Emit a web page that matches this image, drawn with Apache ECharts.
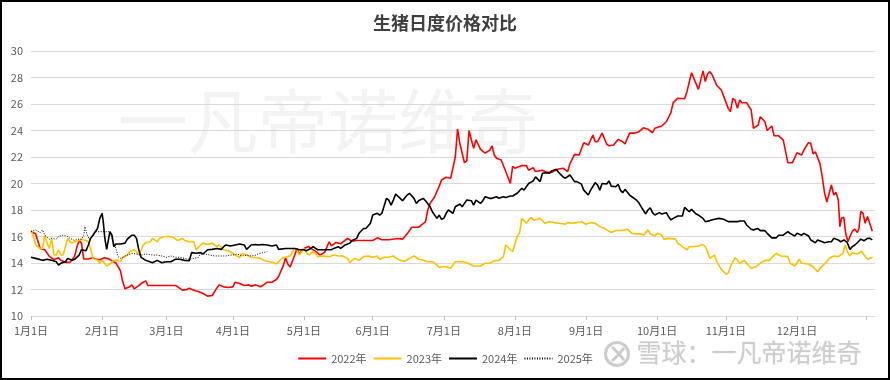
<!DOCTYPE html>
<html><head><meta charset="utf-8">
<script src="https://cdn.jsdelivr.net/npm/echarts@6/dist/echarts.min.js"></script>
<style>html,body{margin:0;padding:0;background:#fff}#c{width:890px;height:380px}</style>
</head><body><div id="c"></div>
<script>
const title = '生猪日度价格对比';
const seriesNames = ['2022年', '2023年', '2024年', '2025年'];
// x positions of month ticks (day index along the axis) and their labels
const monthTicks = [0, 31, 59, 88, 119, 149, 180, 211, 242, 273, 303, 334, 364];
const monthLabels = ['1月1日', '2月1日', '3月1日', '4月1日', '5月1日', '6月1日', '7月1日', '8月1日', '9月1日', '10月1日', '11月1日', '12月1日', ''];
const yTicks = [10, 12, 14, 16, 18, 20, 22, 24, 26, 28, 30];

const days2022 = [0,2,4,6,8,10,12,13,15,17,19,20,21,22,23,25,27,28,30,32,34,35,37,39,40,41,43,44,45,47,48,49,50,51,54,58,63,64,66,68,69,71,73,75,77,79,81,82,84,86,88,89,91,93,95,96,98,100,101,103,105,107,108,110,111,112,113,115,116,117,119,121,122,124,126,128,130,131,133,135,136,138,140,142,145,149,151,153,156,160,162,164,166,169,172,173,174,176,178,179,181,183,185,186,187,189,190,191,192,193,194,196,198,200,201,202,203,205,207,209,210,211,214,216,217,219,220,223,225,227,230,232,234,235,237,239,241,243,245,246,247,249,251,252,254,256,258,259,261,263,265,267,269,271,272,275,277,279,280,282,285,286,288,289,291,293,294,295,296,297,299,301,304,305,306,307,308,309,310,312,314,315,317,318,320,321,323,324,326,328,330,332,334,336,337,339,340,341,342,344,345,346,347,349,350,351,352,352.7,353.4,354.4,355.2,356.2,357.1,358.1,359.2,360.3,361,361.8,362.8,363.7,364.7,365.7,366.8];
const price2022 = [16.36,16.2,15.1,15.0,14.5,14.25,14.4,14.2,14.05,14.05,14.5,15.2,15.7,15.5,14.3,14.3,14.4,14.3,14.25,14.4,14.3,14.2,14.0,13.4,12.6,12.05,12.2,12.35,12.05,12.3,12.45,12.55,12.65,12.3,12.3,12.3,12.3,12.2,11.95,12.0,12.1,11.95,11.85,11.7,11.5,11.55,12.1,12.35,12.2,12.15,12.2,12.55,12.45,12.3,12.35,12.25,12.35,12.2,12.3,12.55,12.55,12.75,13.0,13.8,14.4,13.9,13.7,14.6,15.1,14.7,15.1,15.25,15.1,14.9,14.6,14.8,15.6,15.3,15.55,15.45,15.6,15.85,15.65,15.7,15.7,15.7,15.9,15.75,15.75,15.85,15.8,16.2,16.7,16.7,17.1,18.0,18.5,19.0,19.8,20.26,20.47,20.4,22.0,24.1,23.0,21.57,21.7,24.0,23.3,22.66,23.3,22.58,22.3,22.5,22.85,22.15,21.9,21.77,20.9,20.0,21.3,21.15,21.35,21.35,21.0,21.2,20.9,21.0,20.84,20.84,21.1,21.15,20.9,21.5,22.2,22.15,23.08,22.9,23.66,23.15,23.15,23.8,22.98,22.85,22.9,23.33,23.15,22.98,23.8,23.8,23.9,24.2,24.1,23.83,24.17,24.34,24.66,25.35,26.1,26.43,26.4,26.93,28.36,27.94,27.1,28.5,27.7,28.26,28.44,28.2,27.4,27.06,25.67,25.42,26.43,26.3,25.67,26.3,26.1,26.1,25.55,24.17,24.4,25.04,24.66,24.0,24.34,23.6,23.6,23.28,21.57,21.57,22.32,22.15,22.53,23.08,23.03,22.23,22.4,21.5,20.5,19.3,18.6,19.9,19.13,19.33,18.75,16.74,17.37,17.45,16.24,15.6,16.0,16.4,16.55,16.3,16.6,17.9,17.75,17.0,17.5,17.0,16.4];

const days2023 = [0,1,2,4,5,6,7,8,9,10,11,12,13,14,16,17,18,19,21,22,24,25,26,27,29,30,31,33,35,36,38,39,40,42,43,45,46,47,49,50,52,53,55,56,58,60,62,64,66,67,69,71,72,74,75,77,79,81,82,84,86,87,89,91,92,94,96,98,100,102,104,106,107,108,109,110,111,113,114,115,116,117,118,119,120,121,123,124,125,127,130,132,134,136,138,139,140,141,143,145,147,149,151,152,154,156,158,160,161,163,165,167,169,171,173,175,177,178,180,181,183,185,188,190,193,196,198,200,202,204,206,207,209,210,212,213,214,216,217,218,219,221,222,224,226,228,230,233,234,236,238,240,242,244,246,248,250,251,253,255,258,260,262,264,266,267,269,270,272,273,275,276,278,281,282,284,286,287,289,291,293,294,295,296,298,299,301,303,304,305,307,308,309,311,312,314,316,318,320,322,323,325,327,330,331,333,335,336,339,341,343,344,347,348,350,352,354,355,356,357,358,360,361,362,364,365,367];
const price2023 = [16.5,16.0,15.36,15.1,15.1,16.1,15.5,15.1,15.86,14.6,14.6,15.0,14.6,14.6,15.86,15.6,15.5,15.6,15.7,15.8,15.7,15.6,15.1,14.35,14.2,13.98,14.2,13.77,13.98,14.2,14.2,14.1,14.4,14.6,14.85,15.0,14.85,14.6,15.36,15.53,15.6,15.86,15.6,15.86,16.0,16.0,15.94,15.7,15.86,15.7,15.6,15.6,15.0,15.36,15.5,15.4,15.5,15.23,15.36,15.0,14.93,14.85,14.6,14.43,14.7,14.6,14.43,14.4,14.35,14.17,14.1,14.02,13.92,14.1,14.3,14.43,14.43,14.53,14.85,15.1,15.0,14.6,14.85,15.1,14.85,14.6,14.85,14.73,14.48,14.53,14.48,14.6,14.53,14.53,14.35,14.02,14.2,14.35,14.2,14.48,14.53,14.43,14.53,14.28,14.43,14.43,14.53,14.28,14.2,14.13,14.35,14.53,14.3,14.2,14.1,14.1,13.85,13.67,13.72,13.72,13.6,14.1,14.1,14.02,13.77,13.77,13.98,13.98,14.17,14.2,14.48,15.36,15.0,14.85,16.04,16.24,17.37,17.0,17.25,17.42,17.25,17.3,17.37,17.0,17.12,17.05,17.0,16.92,17.05,17.0,17.05,17.12,16.92,17.05,17.0,16.74,16.62,16.5,16.3,16.45,16.45,16.55,16.24,16.2,16.2,16.1,16.5,16.2,16.04,16.24,16.1,15.8,15.86,15.8,15.5,15.23,15.0,15.23,15.23,15.28,15.4,15.23,14.85,14.35,14.6,14.1,13.52,13.17,13.22,13.72,14.4,14.2,13.98,14.2,13.98,13.6,13.72,13.98,14.2,14.2,14.43,14.73,14.53,14.48,13.98,13.77,14.28,13.98,13.92,13.72,13.34,13.6,14.1,14.35,14.53,14.48,14.73,15.36,14.85,14.53,14.78,14.68,14.73,14.9,14.43,14.28,14.43];

const days2024 = [0,2,5,7,9,11,12,13,15,16,18,19,21,22,24,25,26,27,29,30,31,31.5,32.2,33,33.7,34.4,35.3,36.1,37,39,41,42,44,45,46,47,48,50,53,55,57,59,61,63,65,67,69,70,72,74,75,77,79,81,83,84,85,87,89,91,93,94,96,98,99,101,103,105,107,108,111,113,115,117,119,120,122,123,125,127,129,131,132,134,135,137,139,140,142,143,145,146,148,149,151,152,153,155,156,157,158,159,161,162,164,165,167,168,169,171,172,174,175,177,178,179,180,181,182,184,185,187,188,189,190,192,193,194,196,197,198,200,201,203,204,206,207,209,210,212,214,215,216,217,219,220,222,223,225,226,227,229,230,232,233,235,237,238,240,241,243,244,246,247,248,249,251,252,253,255,256,257,258,259,261,262,264,265,266,268,269,270,271,272,274,275,277,278,279,280,282,284,285,287,288,290,291,293,294,296,298,300,302,304,306,308,309,311,312,314,315,317,318,320,321,323,325,326,328,330,331,333,334,336,337,339,340,342,343,345,346,348,349,350,352,353,354.5,355.9,357.1,358.1,359.2,360.3,361.8,363.2,364.7,365.8,366.8];
const price2024 = [14.43,14.35,14.2,14.28,14.2,14.1,13.85,13.98,14.1,14.35,14.2,14.28,14.6,15.0,14.93,15.36,15.86,16.1,16.6,17.37,17.75,17.12,15.86,15.03,15.1,16.36,16.1,15.23,15.43,15.43,15.5,15.8,16.1,16.1,15.86,15.0,14.43,14.2,14.02,14.2,14.02,14.1,14.1,14.28,14.28,14.2,14.17,14.78,14.73,14.78,14.68,15.0,15.03,15.1,15.03,15.23,15.36,15.28,15.36,15.43,15.36,15.03,15.36,15.4,15.36,15.4,15.36,15.28,15.36,15.03,15.1,15.1,15.1,15.0,15.0,14.93,15.1,15.23,15.0,15.0,15.0,15.0,15.1,15.23,15.1,15.36,15.5,15.7,15.86,16.24,16.6,16.6,17.0,17.62,17.75,17.62,17.75,18.88,18.75,18.37,18.75,19.2,18.88,18.7,19.13,19.26,18.88,18.5,18.7,18.88,18.7,18.25,17.87,17.37,17.62,17.3,17.37,17.75,18.0,17.75,18.25,18.45,18.25,18.5,18.75,18.7,18.37,18.75,18.5,18.7,19.0,18.88,18.88,19.0,18.88,19.0,18.95,19.06,19.06,19.26,19.64,19.5,19.76,20.0,20.2,20.5,20.14,20.77,20.82,20.77,20.95,21.07,20.85,20.5,20.4,20.64,20.14,20.14,19.95,19.5,19.13,19.5,20.06,19.9,19.5,20.0,19.96,20.2,19.8,19.76,19.94,19.5,19.3,19.56,19.13,19.0,18.75,18.55,18.25,17.7,18.0,18.17,17.8,17.62,17.8,17.7,17.8,17.5,17.25,17.37,17.55,17.55,18.2,17.87,18.05,17.7,17.62,17.37,17.12,17.2,17.3,17.37,17.3,17.12,17.12,17.12,17.17,17.17,16.87,16.55,16.5,16.6,16.44,16.44,16.24,15.9,15.9,16.1,16.1,16.36,16.24,16.04,16.24,16.1,16.24,16.04,15.74,15.53,15.74,15.6,15.53,15.6,15.6,15.86,15.74,15.6,15.74,15.53,15.03,15.23,15.36,15.53,15.8,15.68,15.86,15.86,15.74];

const days2025 = [0,2,4,5,6,8,9,11,12,14,16,17,19,20,22,23,23.5,24.3,25.4,27,28,30,32,34,35,37,38,39,41,42,44,46,48,50,53,55,57,59,61,63,65,67,69,71,73,74,76,78,80,82,85,87,88,90,92,94,96,98,99,101,103];
const price2025 = [16.36,16.5,16.3,16.5,16.1,15.8,15.86,15.8,16.0,16.1,16.0,15.86,15.7,15.8,15.8,16.1,16.74,16.24,15.8,16.04,16.36,16.36,16.36,16.36,16.0,15.1,14.48,14.35,14.53,14.6,14.73,14.68,14.6,14.68,14.6,14.6,14.53,14.43,14.53,14.43,14.43,14.35,14.28,14.35,14.43,14.68,14.68,14.6,14.53,14.53,14.53,14.6,14.6,14.68,14.53,14.6,14.53,14.6,14.68,14.78,14.85];

const zip = (d, v) => d.map((x, i) => [x, v[i]]);
const labelOf = {};
monthTicks.forEach((t, i) => labelOf[t] = monthLabels[i]);

const chart = echarts.init(document.getElementById('c'), null, { renderer: 'canvas' });
const FONT = '"Noto Sans CJK SC", "Noto Sans", sans-serif';

chart.setOption({
  animation: false,
  backgroundColor: '#fff',
  textStyle: { fontFamily: FONT },
  title: {
    text: title, left: 'center', top: 9,
    textStyle: { fontSize: 18, fontWeight: 'bold', color: '#404040', fontFamily: FONT }
  },
  grid: { left: 31, right: 15, top: 51, bottom: 64, containLabel: false },
  legend: {
    bottom: 11, left: 'center', itemWidth: 28, itemHeight: 10, itemGap: 6,
    itemStyle: { opacity: 0 },
    textStyle: { fontSize: 11, color: '#595959', fontFamily: FONT },
    data: seriesNames
  },
  xAxis: {
    type: 'value', min: 0, max: 368,
    axisLine: { show: true, lineStyle: { color: '#d9d9d9', width: 1 } },
    axisTick: { show: true, length: 4, lineStyle: { color: '#bfbfbf' }, customValues: monthTicks },
    axisLabel: {
      customValues: monthTicks.slice(0, 12), margin: 9, fontSize: 11, color: '#595959',
      formatter: v => labelOf[v] || ''
    },
    splitLine: { show: false }
  },
  yAxis: {
    type: 'value', min: yTicks[0], max: yTicks[yTicks.length - 1], interval: 2,
    axisLine: { show: false }, axisTick: { show: false },
    axisLabel: { fontSize: 11, color: '#595959', margin: 8 },
    splitLine: { lineStyle: { color: '#d9d9d9', width: 1 } }
  },
  graphic: [
    { type: 'text', z: -10, left: 118, top: 86, style: { text: '一凡帝诺维奇', fontSize: 70, fill: '#f3f3f3', fontFamily: FONT } },
    { type: 'circle', z: 5, shape: { cx: 617, cy: 354, r: 11.5 }, style: { fill: 'none', stroke: '#cccccc', lineWidth: 3 } },
    { type: 'polyline', z: 5, shape: { points: [[612, 347], [619, 354], [612, 361]] }, style: { fill: 'none', stroke: '#cccccc', lineWidth: 3 } },
    { type: 'polyline', z: 5, shape: { points: [[624, 348], [619, 354], [624, 360]] }, style: { fill: 'none', stroke: '#cccccc', lineWidth: 3 } },
    { type: 'text', z: 5, left: 636, top: 339, style: { text: '雪球：一凡帝诺维奇', fontSize: 25, fill: '#cccccc', stroke: '#f2f2f2', lineWidth: 1, fontFamily: FONT } },
    { type: 'rect', z: 10, shape: { x: 1, y: 1, width: 888, height: 378 }, style: { fill: 'none', stroke: '#000', lineWidth: 2 } }
  ],
  series: [
    { name: seriesNames[0], type: 'line', symbol: 'none', data: zip(days2022, price2022), lineStyle: { color: '#ff0000', width: 1.6 }, itemStyle: { color: '#ff0000' }, z: 2 },
    { name: seriesNames[1], type: 'line', symbol: 'none', data: zip(days2023, price2023), lineStyle: { color: '#ffc000', width: 1.6 }, itemStyle: { color: '#ffc000' }, z: 3 },
    { name: seriesNames[2], type: 'line', symbol: 'none', data: zip(days2024, price2024), lineStyle: { color: '#000000', width: 1.6 }, itemStyle: { color: '#000000' }, z: 4 },
    { name: seriesNames[3], type: 'line', symbol: 'none', data: zip(days2025, price2025), lineStyle: { color: '#000000', width: 1, type: [1, 1.5] }, itemStyle: { color: '#000000' }, z: 5 }
  ]
});
</script></body></html>
